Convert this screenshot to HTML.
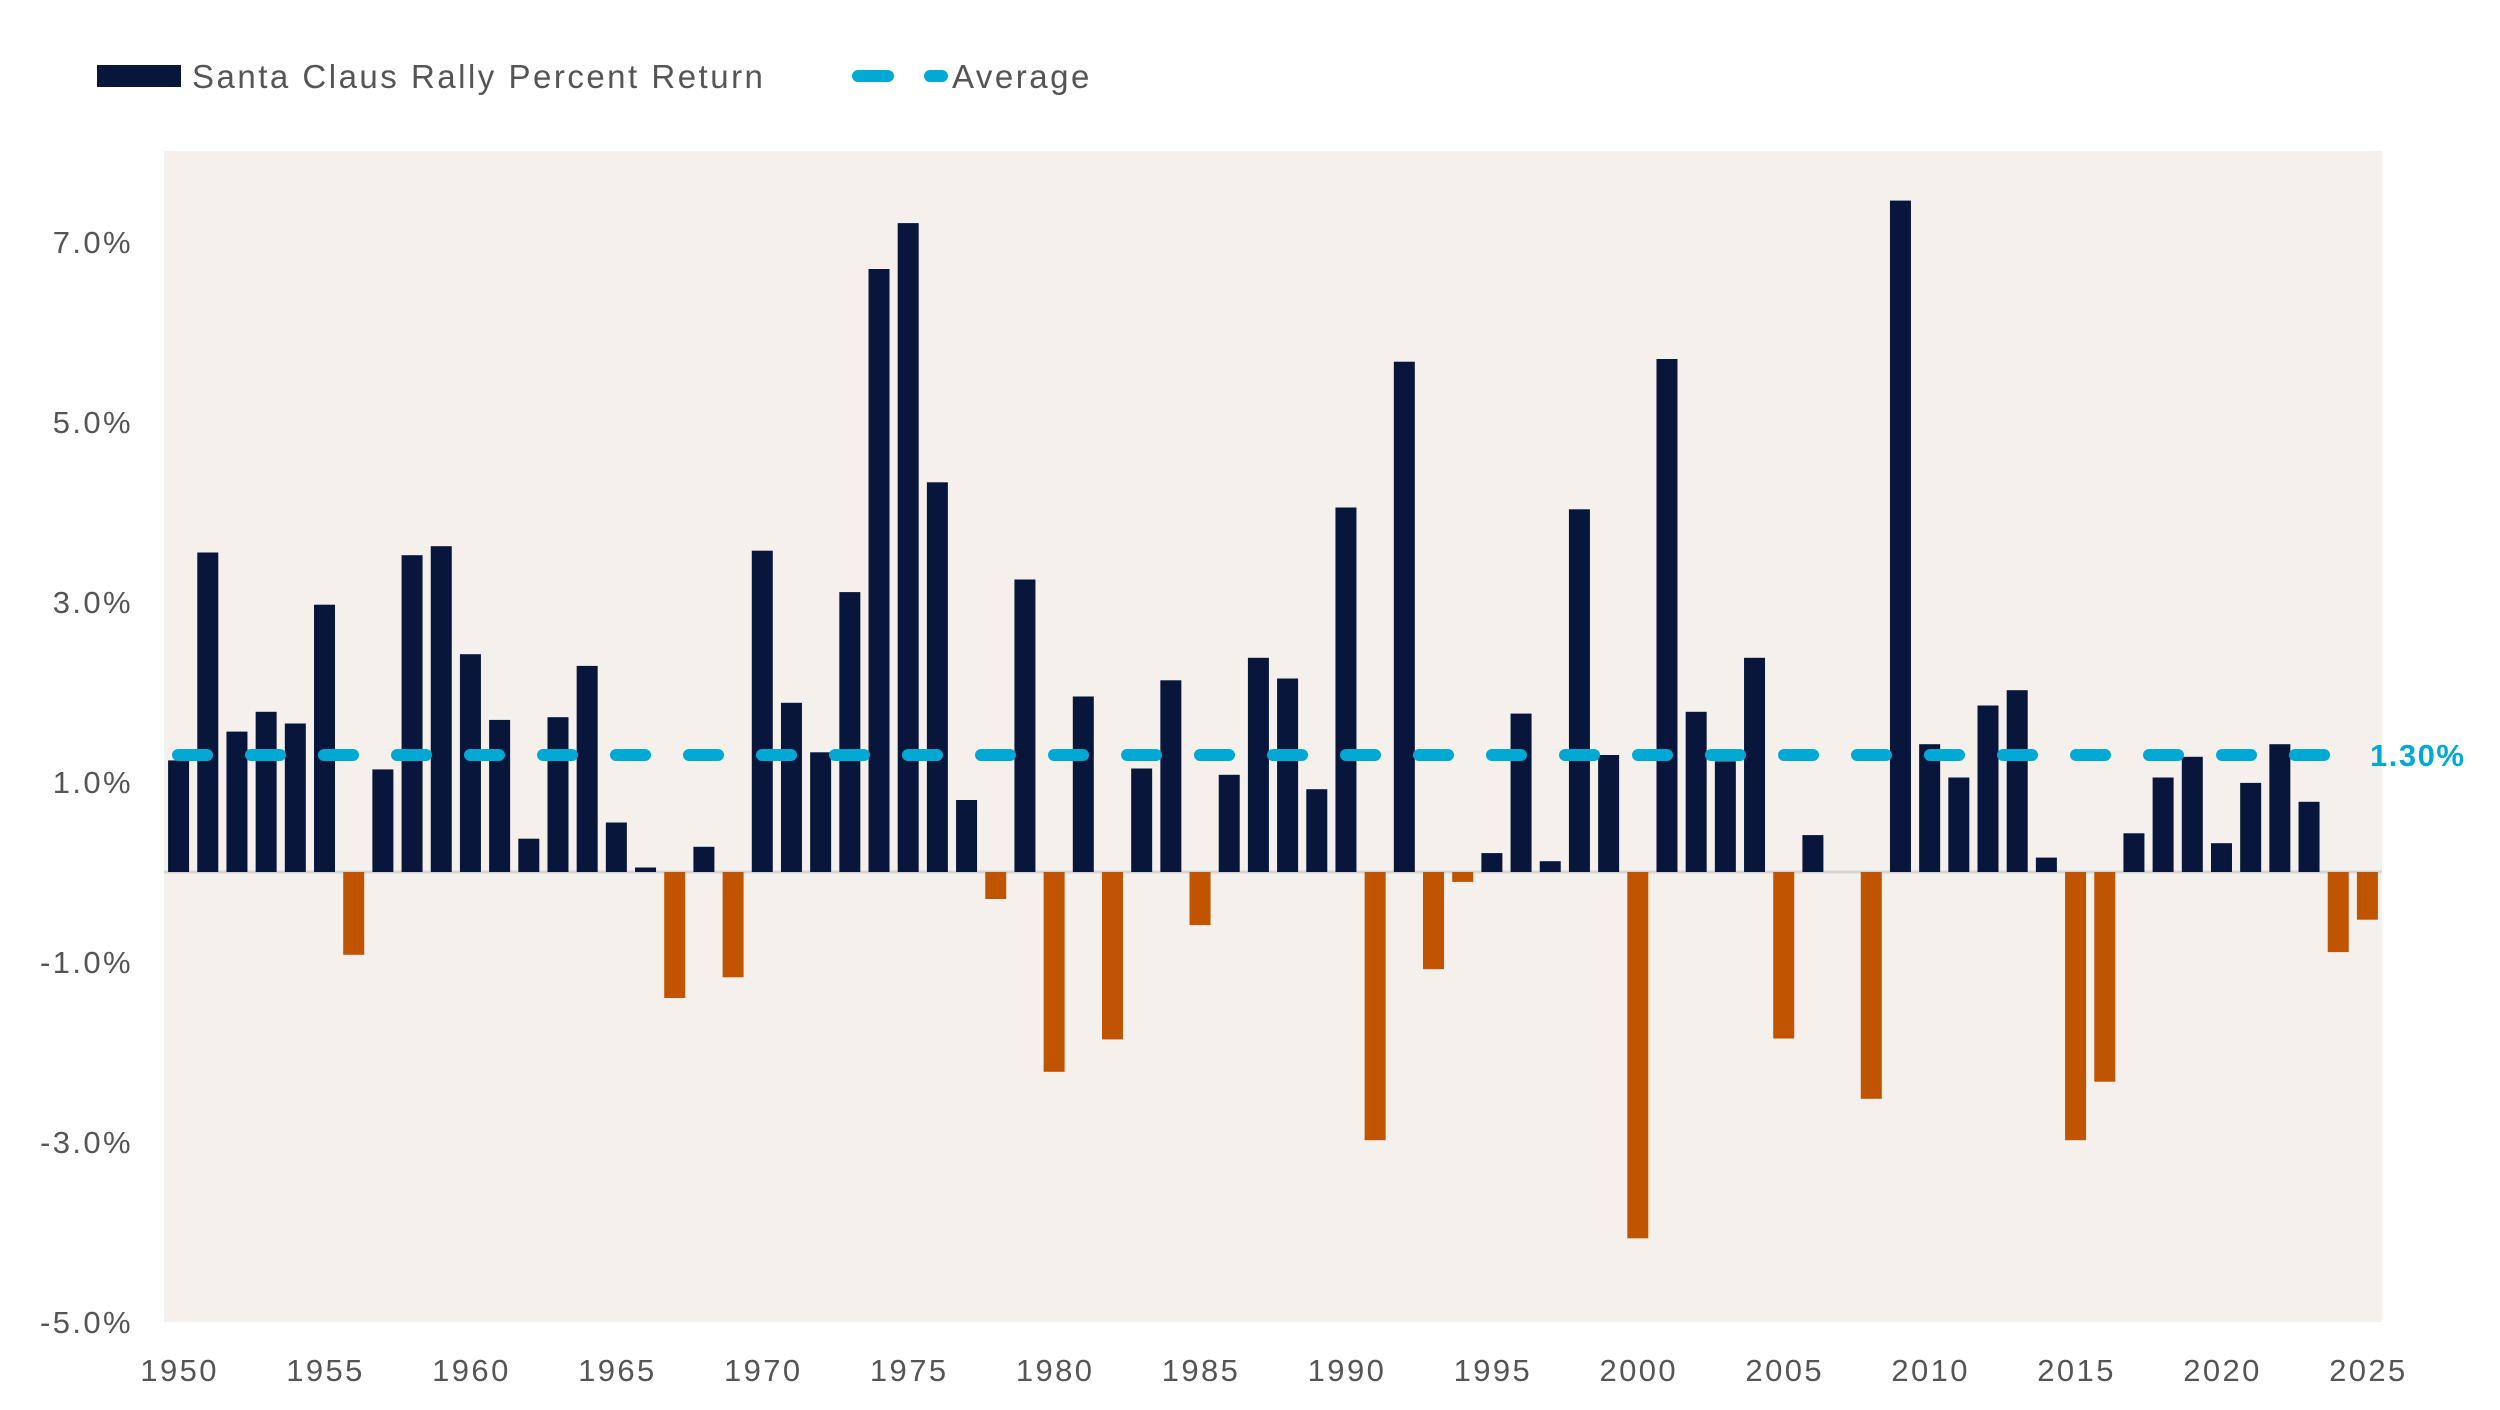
<!DOCTYPE html>
<html><head><meta charset="utf-8"><style>
html,body{margin:0;padding:0;background:#fff;}
svg{display:block;font-family:"Liberation Sans",sans-serif;}
</style></head><body>
<svg id="chart" width="2500" height="1410" viewBox="0 0 2500 1410" xmlns="http://www.w3.org/2000/svg">
<g>
<rect x="97" y="65" width="84" height="22" fill="#07163A"/>
<text x="192" y="88" font-size="33" letter-spacing="2.5" fill="#555">Santa Claus Rally Percent Return</text>
<line x1="858" y1="76" x2="888" y2="76" stroke="#00A9D4" stroke-width="12" stroke-linecap="round"/>
<line x1="930" y1="76" x2="942" y2="76" stroke="#00A9D4" stroke-width="12" stroke-linecap="round"/>
<text x="952" y="88" font-size="33" letter-spacing="2.5" fill="#555">Average</text>
</g>
<rect x="164" y="151" width="2218" height="1171" fill="#F5F0EC"/>
<g id="yaxis"></g>
<g id="xaxis"></g>
<g id="bars"></g>
<g id="avg"></g>
</svg>
<script>
const years = [];
for (let y = 1950; y <= 2025; y++) years.push(y);
const returns = [1.24,3.55,1.56,1.78,1.65,2.97,-0.92,1.14,3.52,3.62,
2.42,1.69,0.37,1.72,2.29,0.55,0.05,-1.40,0.28,-1.17,
3.57,1.88,1.33,3.11,6.70,7.21,4.33,0.80,-0.30,3.25,
-2.22,1.95,-1.86,1.15,2.13,-0.59,1.08,2.38,2.15,0.92,
4.05,-2.98,5.67,-1.08,-0.11,0.21,1.76,0.12,4.03,1.30,
-4.07,5.70,1.78,1.23,2.38,-1.85,0.41,0,-2.52,7.46,
1.42,1.05,1.85,2.02,0.16,-2.98,-2.33,0.43,1.05,1.28,
0.32,0.99,1.42,0.78,-0.89,-0.53];
const average = [1.30];
const yTicks = [7,5,3,1,-1,-3,-5];
const yTickLabels = ["7.0%","5.0%","3.0%","1.0%","-1.0%","-3.0%","-5.0%"];
const xTicks = [1950,1955,1960,1965,1970,1975,1980,1985,1990,1995,2000,2005,2010,2015,2020,2025];

const NS = "http://www.w3.org/2000/svg";
const plotL = 164, plotR = 2382, plotT = 151, plotB = 1322;
const yTop = 7, yBot = -5, pxTop = 242, pxBot = 1322;
function yScale(v){ return pxTop + (yTop - v) * (pxBot - pxTop) / (yTop - yBot); }
function xScale(yr){ return plotL + (yr - 1949.5) * (plotR - plotL) / 76; }
const bw = 21;
function mk(tag, attrs, parent){ const e = document.createElementNS(NS, tag); for (const k in attrs) e.setAttribute(k, attrs[k]); parent.appendChild(e); return e; }

const ya = document.getElementById('yaxis');
yTicks.forEach((t,i)=>{
  const tx = mk('text',{x:133,y:yScale(t)+11,'font-size':31,'letter-spacing':2.4,fill:'#555','text-anchor':'end'},ya);
  
  
  tx.textContent = yTickLabels[i];
});
const xa = document.getElementById('xaxis');
xTicks.forEach(t=>{
  const tx = mk('text',{x:xScale(t)+1,y:1381,'font-size':31,'letter-spacing':2.4,fill:'#555','text-anchor':'middle'},xa);
  
  
  tx.textContent = t;
});
const bars = document.getElementById('bars');
const zero = yScale(0);
const zl = mk('line',{x1:plotL,x2:plotR,y1:zero,y2:zero,stroke:'#d8d6d4','stroke-width':3},bars);


years.forEach((yr,i)=>{
  const v = returns[i];
  if (v === 0) return;
  const y1 = yScale(v);
  const r = mk('rect',{x:xScale(yr)-bw/2,y:Math.min(y1,zero),width:bw,height:Math.abs(zero-y1),fill:v>0?'#07163A':'#C05400'},bars);
  
  
});
const avg = document.getElementById('avg');
const ay = yScale(average[0]);
const al = mk('line',{x1:178,x2:2352,y1:ay,y2:ay,stroke:'#00A9D4','stroke-width':12,'stroke-linecap':'round','stroke-dasharray':'29 44'},avg);


const lbl = mk('text',{x:2370,y:ay+11,'font-size':31,'font-weight':'bold','letter-spacing':1.5,fill:'#00A9D4'},avg);


lbl.textContent = average[0].toFixed(2) + '%';
</script>
</body></html>
